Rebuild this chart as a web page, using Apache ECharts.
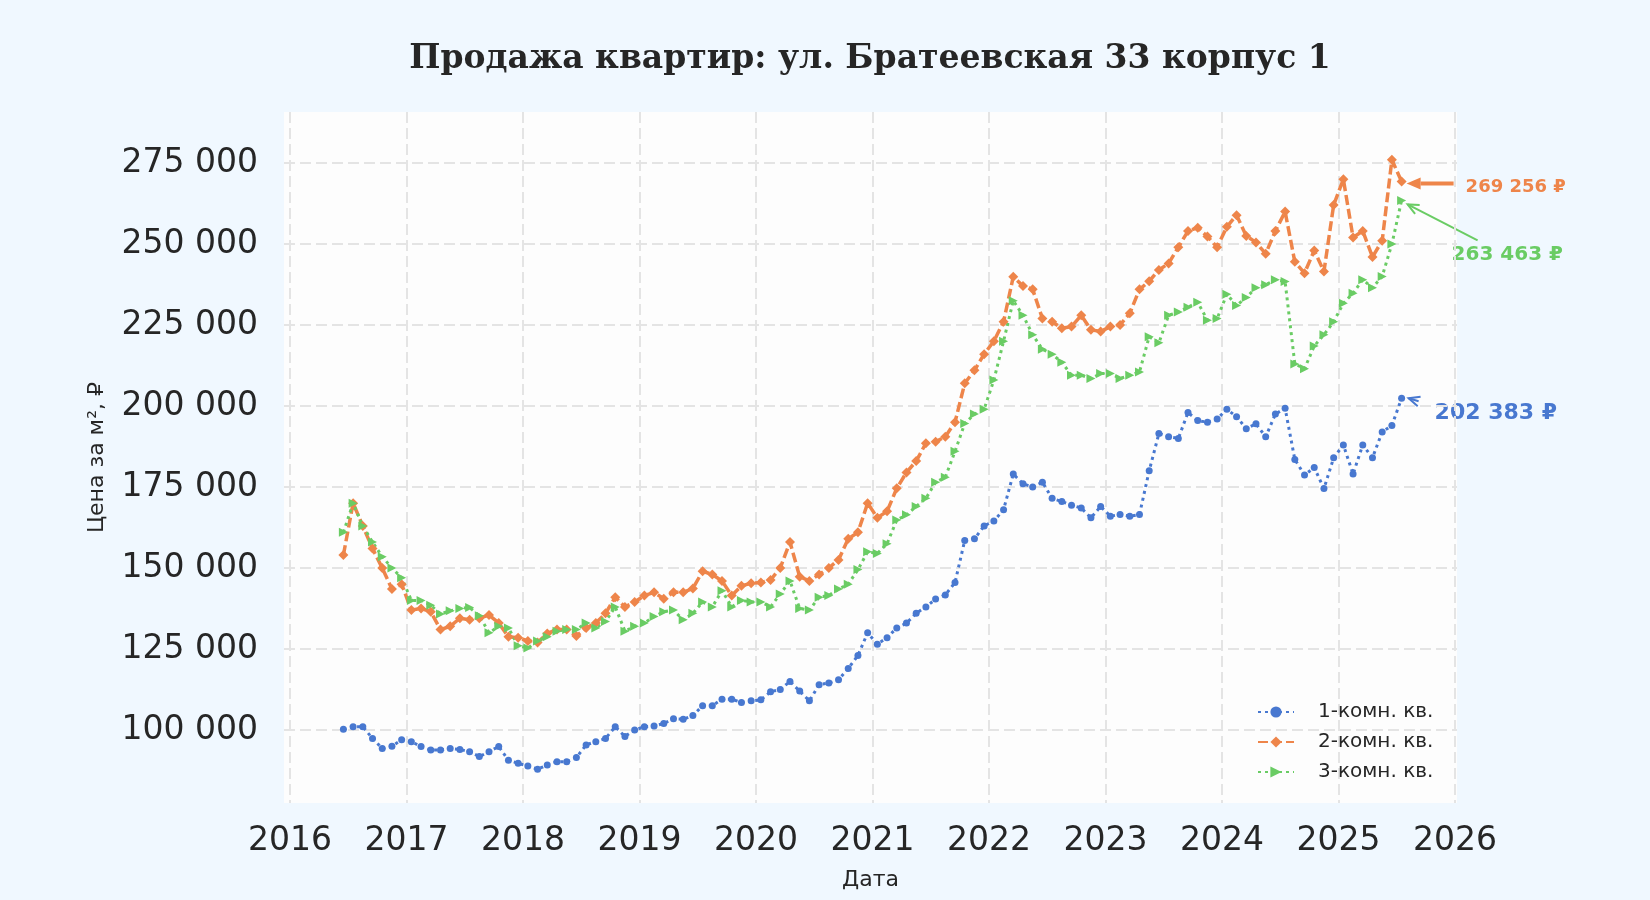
<!DOCTYPE html>
<html>
<head>
<meta charset="utf-8">
<script src="https://cdn.jsdelivr.net/npm/echarts@6/dist/echarts.min.js"></script>
<style>
  html, body { margin: 0; background: #f0f8ff; }
  #chart { width: 1650px; height: 900px; }
</style>
</head>
<body>
<div id="chart"></div>
<script>
// monthly series, first month 2016-06, last month 2025-07
const firstMonth = [2016, 6];
const seriesNames = ['1-комн. кв.', '2-комн. кв.', '3-комн. кв.'];
const yearTicks = [2016, 2017, 2018, 2019, 2020, 2021, 2022, 2023, 2024, 2025, 2026];

const oneRoom = [
  100200, 101000, 101000, 97400, 94300, 95000, 97000,
  96400, 94900, 93800, 93800, 94300, 94000, 93300, 91800, 93300, 94900, 90700, 89700,
  88900, 87900, 89200, 90200, 90200, 91500, 95400, 96400, 97400, 101000, 98000, 100000,
  101000, 101200, 102000, 103500, 103300, 104500, 107500, 107500, 109500, 109500, 108500, 109000,
  109300, 111800, 112500, 115000, 112000, 109000, 114000, 114500, 115500, 119000, 123000, 130000,
  126500, 128500, 131500, 133000, 136000, 138000, 140400, 141700, 145500, 158500, 159000, 163000,
  164500, 168000, 179000, 176000, 175000, 176500, 171500, 170500, 169400, 168500, 165500, 169000,
  166000, 166500, 166000, 166500, 180000, 191500, 190500, 190000, 198000, 195500, 195000, 196000,
  199000, 196700, 193000, 194500, 190500, 197500, 199300, 183500, 178700, 181000, 174500, 184000,
  188000, 179000, 188000, 184000, 192000, 194000, 202383
];

const twoRoom = [
  154000, 170000, 163000, 156000, 150000, 143500, 145000,
  137000, 137500, 136500, 131000, 132000, 134500, 134000, 134500, 135500, 133000, 128800, 128500,
  127500, 127000, 129800, 131000, 131000, 129000, 131500, 133000, 136000, 141000, 138000, 139500,
  141500, 142500, 140500, 142500, 142500, 143700, 149000, 148000, 146000, 141500, 144500, 145300,
  145500, 146300, 150000, 158000, 147300, 146000, 148000, 150000, 152500, 159000, 161000, 170000,
  165500, 167500, 174600, 179500, 183000, 188500, 189000, 190500, 195000, 207000, 211000, 216000,
  220000, 226000, 239900, 237000, 236000, 227000, 226000, 224000, 224500, 228000, 223500, 223000,
  224500, 225000, 228600, 236000, 238500, 242000, 244000, 249000, 254000, 255000, 252300, 249000,
  255300, 258900, 252500, 250500, 247000, 254000, 260000, 244500, 241000, 248000, 241500, 262000,
  270000, 252000, 254000, 246000, 251000, 276000, 269256
];

const threeRoom = [
  161000, 170000, 163000, 158000, 153500, 150000, 147000,
  140000, 140000, 138500, 135800, 136800, 137500, 137800, 135300, 130000, 132000, 131500, 126000,
  125300, 127500, 128800, 130500, 131000, 131000, 133000, 131500, 133500, 138000, 130500, 132000,
  133000, 135000, 136500, 137000, 134000, 136000, 139500, 138000, 143000, 138000, 140000, 139500,
  139500, 138000, 142000, 146000, 137500, 137000, 141000, 141500, 143500, 145000, 149500, 155000,
  154500, 157500, 164800, 166400, 169000, 171500, 176500, 178000, 186000, 194600, 197500, 199000,
  208000, 220000, 232500, 228000, 222000, 217500, 216000, 213500, 209500, 209500, 208500, 210000,
  210000, 208500, 209500, 210500, 221400, 219500, 228000, 229000, 230500, 232000, 226500, 227000,
  234500, 231000, 233500, 236500, 237400, 239000, 238400, 213000, 211500, 218500, 222000, 226000,
  231700, 234800, 239000, 236500, 240000, 250000, 263463
];

const colors = ['#4878d0', '#ee854a', '#6acc64'];
const ink = '#262626';

// month index -> decimal year (middle of the month)
function monthX(i) {
  const m = firstMonth[1] - 1 + i;
  return firstMonth[0] + Math.floor(m / 12) + ((m % 12) + 0.5) / 12;
}
const pairs = arr => arr.map((v, i) => [monthX(i), v]);
const thousands = v => String(Math.round(v)).replace(/\B(?=(\d{3})+(?!\d))/g, ' ');

const gridLine = { show: true, showMinLine: false, showMaxLine: false,
  lineStyle: { color: '#e4e4e4', width: 2, type: [11, 5] } };

const chart = echarts.init(document.getElementById('chart'));
chart.setOption({
  backgroundColor: '#f0f8ff',
  animation: false,
  textStyle: { fontFamily: 'DejaVu Sans' },
  graphic: [{
    type: 'text', x: 870, y: 59,
    style: { text: 'Продажа квартир: ул. Братеевская 33 корпус 1', font: 'bold 33px "DejaVu Serif"',
      fill: ink, align: 'center', verticalAlign: 'middle', textAlign: 'center', textVerticalAlign: 'middle' }
  }],
  grid: { left: 284, right: 193, top: 112, bottom: 97, show: true, backgroundColor: '#fdfdfd', borderWidth: 0 },
  legend: {
    orient: 'vertical', left: 1252, top: 697, itemWidth: 36, itemHeight: 14, itemGap: 10,
    data: seriesNames,
    textStyle: { fontSize: 20, color: ink, fontFamily: 'DejaVu Sans', lineHeight: 20, padding: [0, 0, 0, 19] }
  },
  xAxis: {
    type: 'value', min: yearTicks[0] - 6 / 116.5, max: yearTicks[yearTicks.length - 1] + 2 / 116.5,
    minInterval: 1, maxInterval: 1,
    axisLine: { show: false }, axisTick: { show: false },
    axisLabel: { showMinLabel: false, showMaxLabel: false, formatter: v => String(Math.round(v)),
      margin: 22, fontSize: 33, color: ink, fontFamily: 'DejaVu Sans' },
    splitLine: gridLine,
    name: 'Дата', nameLocation: 'middle', nameGap: 66,
    nameTextStyle: { fontSize: 22, color: ink, fontFamily: 'DejaVu Sans' }
  },
  yAxis: {
    type: 'value', min: 77469, max: 290741, minInterval: 25000, maxInterval: 25000,
    axisLine: { show: false }, axisTick: { show: false },
    axisLabel: { showMinLabel: false, showMaxLabel: false, formatter: thousands,
      margin: 26, fontSize: 33, color: ink, fontFamily: 'DejaVu Sans', padding: [6, 0, 0, 0] },
    splitLine: gridLine,
    name: 'Цена за м², ₽', nameLocation: 'middle', nameGap: 176, nameRotate: 90,
    nameTextStyle: { fontSize: 22, color: ink, fontFamily: 'DejaVu Sans' }
  },
  series: [
    { name: seriesNames[0], type: 'line', data: pairs(oneRoom), color: colors[0],
      symbol: 'circle', symbolSize: 7,
      lineStyle: { width: 3, type: [3, 4] } },
    { name: seriesNames[1], type: 'line', data: pairs(twoRoom), color: colors[1],
      symbol: 'diamond', symbolSize: 10,
      lineStyle: { width: 3.5, type: [10, 4] } },
    { name: seriesNames[2], type: 'line', data: pairs(threeRoom), color: colors[2],
      symbol: 'triangle', symbolRotate: -90, symbolSize: 9,
      lineStyle: { width: 3, type: [3, 4] } }
  ]
});

// value labels with arrows pointing at each series' last point
const notes = [
  { data: oneRoom, color: colors[0], size: 22, tip: [7, 0], tail: [17, 3], text: [33, 15], width: 2, filled: false },
  { data: twoRoom, color: colors[1], size: 18, tip: [5, 2], tail: [52, 2], text: [64, 6], width: 4, filled: true },
  { data: threeRoom, color: colors[2], size: 20, tip: [6, 4], tail: [76, 40], text: [50, 54], width: 2, filled: false }
];
const extra = [];
notes.forEach(n => {
  const last = n.data.length - 1;
  const p = chart.convertToPixel({ gridIndex: 0 }, [monthX(last), n.data[last]]);
  const tx = p[0] + n.tip[0], ty = p[1] + n.tip[1];
  const sx = p[0] + n.tail[0], sy = p[1] + n.tail[1];
  const len = Math.hypot(sx - tx, sy - ty);
  const ux = (sx - tx) / len, uy = (sy - ty) / len;
  const hl = n.filled ? 14 : 11, hw = n.filled ? 6 : 5;
  const a = [tx + ux * hl - uy * hw, ty + uy * hl + ux * hw];
  const b = [tx + ux * hl + uy * hw, ty + uy * hl - ux * hw];
  extra.push({ type: 'line', shape: { x1: sx, y1: sy, x2: n.filled ? tx + ux * hl : tx, y2: n.filled ? ty + uy * hl : ty },
    style: { stroke: n.color, lineWidth: n.width } });
  if (n.filled) {
    extra.push({ type: 'polygon', shape: { points: [[tx, ty], a, b] }, style: { fill: n.color } });
  } else {
    extra.push({ type: 'polyline', shape: { points: [a, [tx, ty], b] }, style: { stroke: n.color, lineWidth: n.width, fill: null } });
  }
  extra.push({ type: 'text', x: p[0] + n.text[0], y: p[1] + n.text[1],
    style: { text: thousands(n.data[last]) + ' ₽', font: 'bold ' + n.size + 'px "DejaVu Sans"', fill: n.color,
      align: 'left', verticalAlign: 'middle', textAlign: 'left', textVerticalAlign: 'middle' } });
});
chart.setOption({ graphic: chart.getOption().graphic[0].elements.concat(extra) });
</script>
</body>
</html>
